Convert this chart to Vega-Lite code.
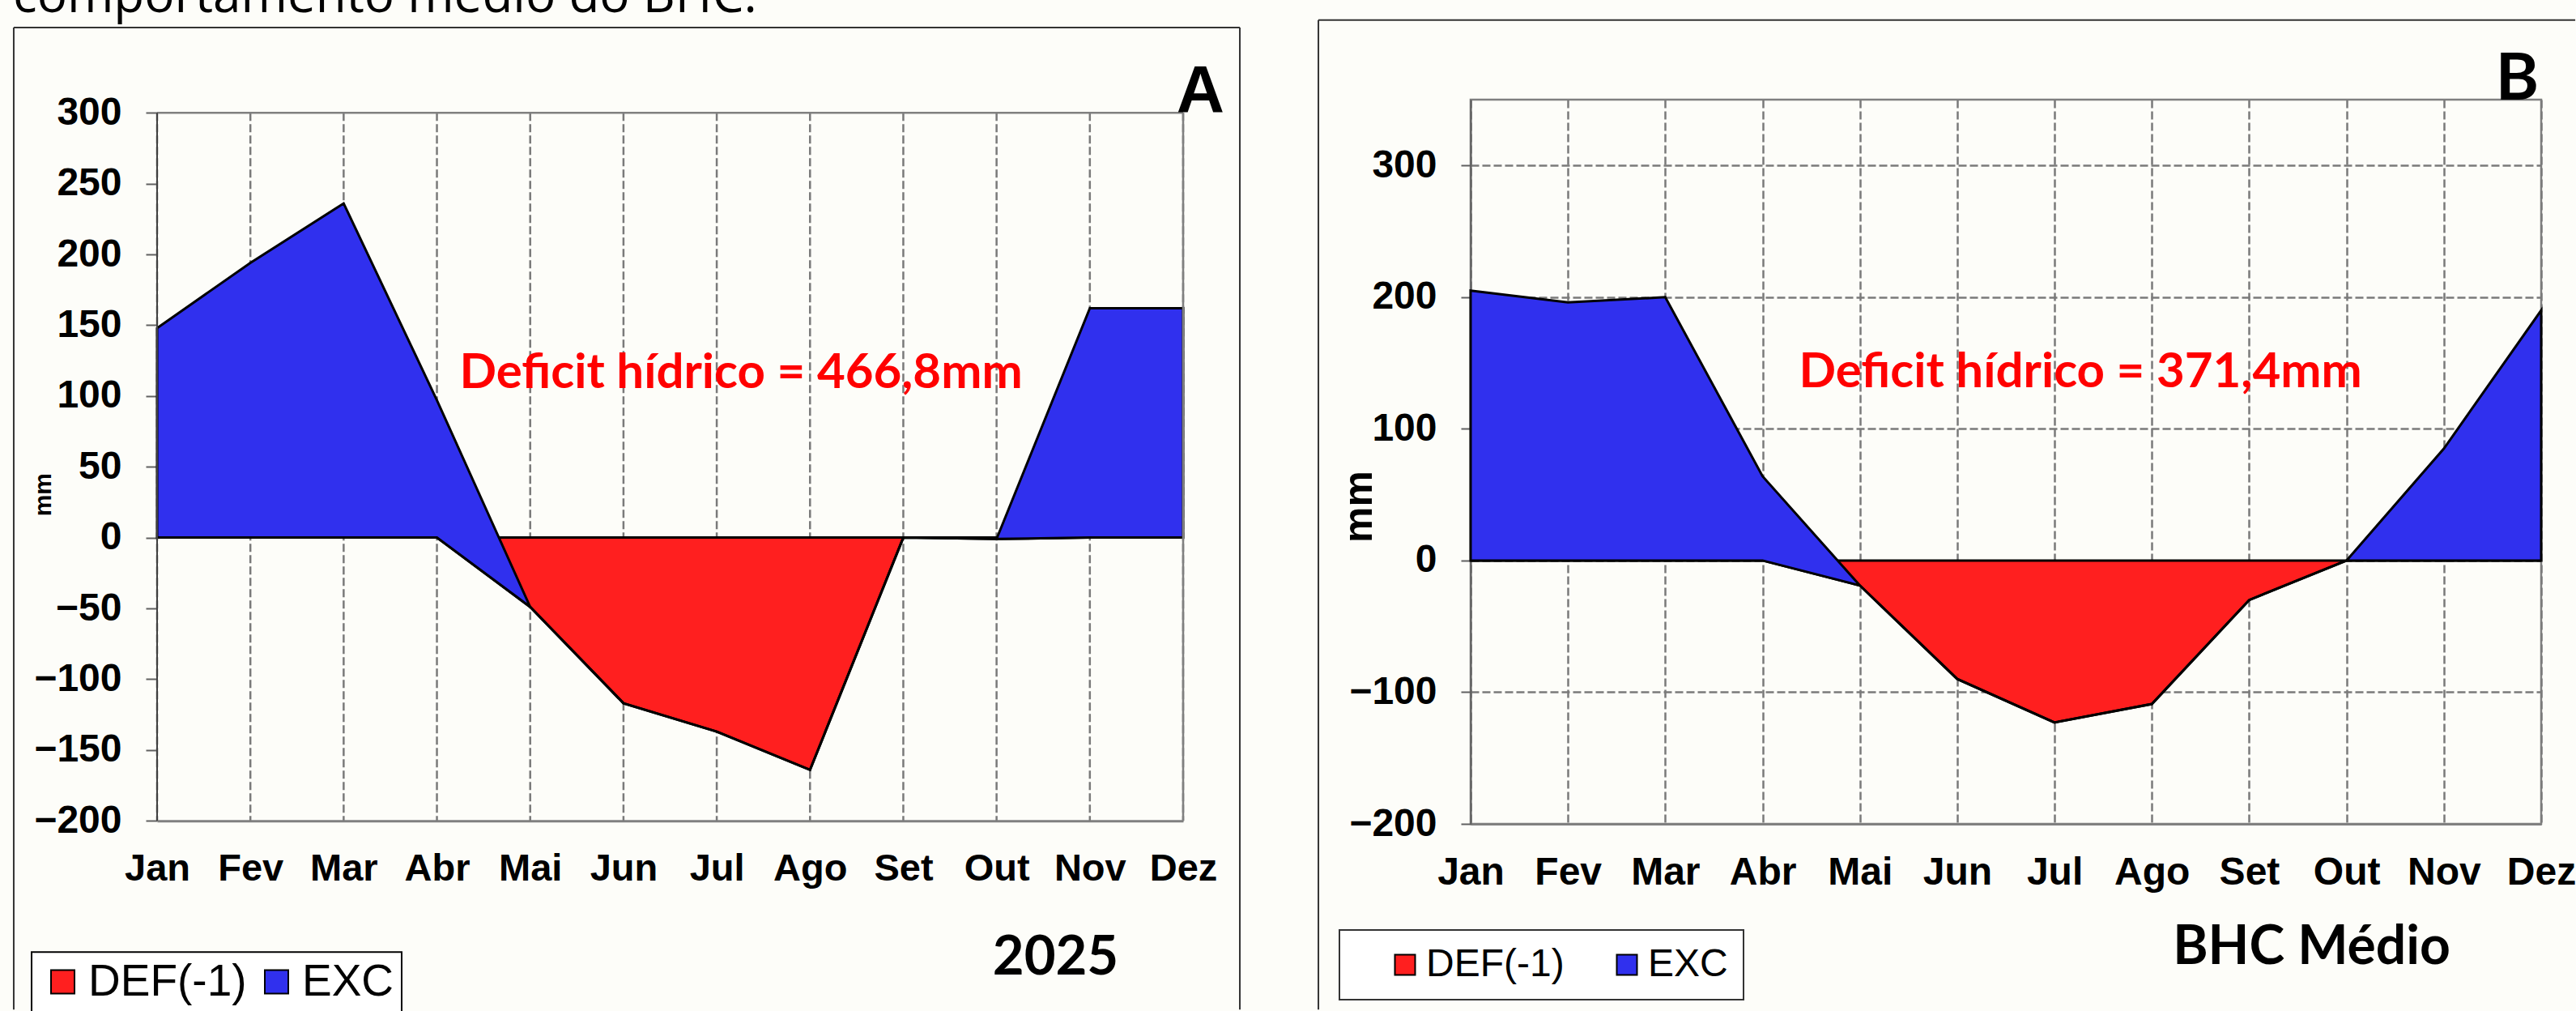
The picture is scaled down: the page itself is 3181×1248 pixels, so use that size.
{
  "$schema": "https://vega.github.io/schema/vega-lite/v6.json",
  "background": "#fdfdf9",
  "padding": {"left": 15, "top": -36, "right": 0, "bottom": 0},
  "title": {"text": "comportamento médio do BHC.", "anchor": "start", "frame": "bounds", "font": "Open Sans", "fontSize": 62, "fontWeight": "normal", "color": "#000000", "baseline": "alphabetic", "offset": -54.5},
  "spacing": 92,
  "hconcat": [
    {
      "resolve": {"scale": {"color": "independent"}, "legend": {"color": "independent"}},
      "vconcat": [
        {
          "width": 1267,
          "height": 890.2,
          "view": {"stroke": null},
          "data": {"values": [
            {"mes": "Jan", "i": 0, "def": 0, "topo_exc": 148},
            {"mes": "Fev", "i": 1, "def": 0, "topo_exc": 194},
            {"mes": "Mar", "i": 2, "def": 0, "topo_exc": 236},
            {"mes": "Abr", "i": 3, "def": 0, "topo_exc": 97},
            {"mes": "Mai", "i": 4, "def": -49, "topo_exc": -49},
            {"mes": "Jun", "i": 5, "def": -117, "topo_exc": -117},
            {"mes": "Jul", "i": 6, "def": -137, "topo_exc": -137},
            {"mes": "Ago", "i": 7, "def": -164, "topo_exc": -164},
            {"mes": "Set", "i": 8, "def": 0, "topo_exc": 0},
            {"mes": "Out", "i": 9, "def": -1, "topo_exc": -1},
            {"mes": "Nov", "i": 10, "def": 0, "topo_exc": 162},
            {"mes": "Dez", "i": 11, "def": 0, "topo_exc": 162}
          ]},
          "encoding": {
            "x": {
              "field": "i", "type": "quantitative",
              "scale": {"domain": [0, 11], "nice": false, "zero": false},
              "axis": {
                "values": [0, 1, 2, 3, 4, 5, 6, 7, 8, 9, 10, 11],
                "labelExpr": "['Jan','Fev','Mar','Abr','Mai','Jun','Jul','Ago','Set','Out','Nov','Dez'][datum.value]",
                "labelFontSize": 47, "labelPadding": 36, "ticks": false, "tickSize": 0, "grid": false,
                "domainWidth": 3, "domainColor": "#808080",
                "title": "2025", "titleFont": "Lato", "titleFontSize": 67, "titleFontWeight": "bold",
                "titleX": 1109, "titleY": 189, "titleAlign": "center", "titleBaseline": "alphabetic"
              }
            }
          },
          "layer": [
            {
              "mark": {"type": "rule", "color": "#7a7a7a", "strokeWidth": 2.5, "strokeDash": [10, 4]},
              "encoding": {"y": {"datum": 300}, "y2": {"datum": -200}}
            },
            {
              "mark": {"type": "area", "stroke": "#000000", "strokeWidth": 3},
              "encoding": {
                "y": {
                  "field": "def", "type": "quantitative", "title": "mm",
                  "scale": {"domain": [-200, 309.27], "nice": false, "zero": false},
                  "axis": {
                    "values": [-200, -150, -100, -50, 0, 50, 100, 150, 200, 250, 300],
                    "labelFontSize": 48, "labelPadding": 30, "tickSize": 14, "domain": false,
                    "titleFont": "Liberation Sans", "titleFontSize": 30, "titleFontWeight": "bold",
                    "titleX": -132, "titleY": 487.2, "titleAngle": 270, "titleAlign": "center", "titleBaseline": "alphabetic"
                  }
                },
                "y2": {"datum": 0},
                "color": {
                  "datum": "DEF(-1)",
                  "scale": {"domain": ["DEF(-1)", "EXC"], "range": ["#ff1f1f", "#3030ee"]},
                  "legend": {"orient": "none", "legendX": -155, "legendY": 1052.2, "direction": "horizontal", "title": null,
                    "symbolType": "square", "symbolSize": 841, "symbolStrokeColor": "#000000", "symbolStrokeWidth": 2,
                    "labelFont": "Liberation Sans", "labelFontSize": 55, "labelColor": "#000000", "labelOffset": 4, "labelLimit": 600,
                    "columnPadding": 7, "padding": 9, "symbolOffset": 2, "fillColor": "#ffffff", "strokeColor": "#000000"}
                }
              }
            },
            {
              "mark": {"type": "area", "stroke": "#000000", "strokeWidth": 3},
              "encoding": {
                "y": {"field": "topo_exc", "type": "quantitative", "title": "mm"},
                "y2": {"field": "def"},
                "color": {
                  "datum": "EXC",
                  "scale": {"domain": ["DEF(-1)", "EXC"], "range": ["#ff1f1f", "#3030ee"]},
                  "legend": {"orient": "none", "legendX": -155, "legendY": 1052.2, "direction": "horizontal", "title": null,
                    "symbolType": "square", "symbolSize": 841, "symbolStrokeColor": "#000000", "symbolStrokeWidth": 2,
                    "labelFont": "Liberation Sans", "labelFontSize": 55, "labelColor": "#000000", "labelOffset": 4, "labelLimit": 600,
                    "columnPadding": 7, "padding": 9, "symbolOffset": 2, "fillColor": "#ffffff", "strokeColor": "#000000"}
                }
              }
            },
            {
              "transform": [{"filter": "datum.i == 0"}],
              "mark": {"type": "rule", "color": "#808080", "strokeWidth": 2.5},
              "encoding": {"x": {"datum": 0}, "x2": {"datum": 11}, "y": {"datum": 300}}
            },
            {
              "transform": [{"filter": "datum.i == 0"}],
              "mark": {"type": "rule", "color": "#808080", "strokeWidth": 2.5},
              "encoding": {"x": {"datum": 11}, "y": {"datum": 300}, "y2": {"datum": -200}}
            },
            {
              "transform": [{"filter": "datum.i == 0"}],
              "mark": {"type": "rule", "color": "#404040", "strokeWidth": 2},
              "encoding": {"x": {"datum": 0}, "y": {"datum": 300}, "y2": {"datum": -200}}
            },
            {
              "transform": [{"filter": "datum.i == 0"}],
              "mark": {"type": "text", "font": "Lato", "fontWeight": "bold", "fontSize": 60, "color": "#ff0000", "align": "center", "baseline": "alphabetic"},
              "encoding": {"x": {"datum": 6.26}, "y": {"datum": 105.5}, "text": {"value": "Deficit hídrico = 466,8mm"}}
            },
            {
              "transform": [{"filter": "datum.i == 0"}],
              "mark": {"type": "text", "font": "Liberation Sans", "fontWeight": "bold", "fontSize": 82, "color": "#000000", "align": "right", "baseline": "alphabetic"},
              "encoding": {"x": {"datum": 11.443}, "y": {"datum": 300.6}, "text": {"value": "A"}}
            },
            {
              "transform": [{"filter": "datum.i == 0"}],
              "mark": {"type": "rule", "color": "#333333", "strokeWidth": 2},
              "encoding": {"x": {"datum": -1.537}, "x2": {"datum": 11.608}, "y": {"datum": 360.2}}
            },
            {
              "transform": [{"filter": "datum.i == 0"}],
              "mark": {"type": "rule", "color": "#333333", "strokeWidth": 2},
              "encoding": {"x": {"datum": -1.537}, "y": {"datum": 360.2}, "y2": {"datum": -333.3}}
            },
            {
              "transform": [{"filter": "datum.i == 0"}],
              "mark": {"type": "rule", "color": "#333333", "strokeWidth": 2},
              "encoding": {"x": {"datum": 11.608}, "y": {"datum": 360.2}, "y2": {"datum": -333.3}}
            }
          ]
        }
      ]
    },
    {
      "resolve": {"scale": {"color": "independent"}, "legend": {"color": "independent"}},
      "vconcat": [
        {
          "width": 1322,
          "height": 894,
          "data": {"values": [
            {"mes": "Jan", "i": 0, "def": 0, "topo_exc": 205},
            {"mes": "Fev", "i": 1, "def": 0, "topo_exc": 196},
            {"mes": "Mar", "i": 2, "def": 0, "topo_exc": 200},
            {"mes": "Abr", "i": 3, "def": 0, "topo_exc": 64},
            {"mes": "Mai", "i": 4, "def": -19, "topo_exc": -19},
            {"mes": "Jun", "i": 5, "def": -90, "topo_exc": -90},
            {"mes": "Jul", "i": 6, "def": -123, "topo_exc": -123},
            {"mes": "Ago", "i": 7, "def": -109, "topo_exc": -109},
            {"mes": "Set", "i": 8, "def": -30, "topo_exc": -30},
            {"mes": "Out", "i": 9, "def": 0, "topo_exc": 0},
            {"mes": "Nov", "i": 10, "def": 0, "topo_exc": 85},
            {"mes": "Dez", "i": 11, "def": 0, "topo_exc": 190}
          ]},
          "encoding": {
            "x": {
              "field": "i", "type": "quantitative",
              "scale": {"domain": [0, 11], "nice": false, "zero": false},
              "axis": {
                "values": [0, 1, 2, 3, 4, 5, 6, 7, 8, 9, 10, 11],
                "labelExpr": "['Jan','Fev','Mar','Abr','Mai','Jun','Jul','Ago','Set','Out','Nov','Dez'][datum.value]",
                "labelFontSize": 48, "labelPadding": 36, "ticks": false, "tickSize": 0,
                "domainWidth": 3, "domainColor": "#808080",
                "title": "BHC Médio", "titleFont": "Lato", "titleFontSize": 66, "titleFontWeight": "bold",
                "titleX": 1038, "titleY": 172, "titleAlign": "center", "titleBaseline": "alphabetic"
              }
            }
          },
          "layer": [
            {
              "mark": {"type": "area", "stroke": "#000000", "strokeWidth": 3},
              "encoding": {
                "y": {
                  "field": "def", "type": "quantitative", "title": "mm",
                  "scale": {"domain": [-200, 350], "nice": false, "zero": false},
                  "axis": {
                    "values": [-200, -100, 0, 100, 200, 300],
                    "labelFontSize": 48, "labelPadding": 30, "tickSize": 12,
                    "domainColor": "#606060", "domainWidth": 2,
                    "titleFont": "Liberation Sans", "titleFontSize": 50, "titleFontWeight": "bold",
                    "titleX": -123, "titleY": 502, "titleAngle": 270, "titleAlign": "center", "titleBaseline": "alphabetic"
                  }
                },
                "y2": {"datum": 0},
                "color": {
                  "datum": "DEF(-1)",
                  "scale": {"domain": ["DEF(-1)", "EXC"], "range": ["#ff1f1f", "#3030ee"]},
                  "legend": {"orient": "none", "legendX": -162, "legendY": 1025, "direction": "horizontal", "title": null,
                    "symbolType": "square", "symbolSize": 625, "symbolStrokeColor": "#000000", "symbolStrokeWidth": 2,
                    "labelFont": "Liberation Sans", "labelFontSize": 48, "labelColor": "#000000", "labelOffset": 2, "labelLimit": 600,
                    "labelExpr": "datum.label == 'EXC' ? 'EXC     ' : datum.label",
                    "columnPadding": 15, "padding": 19, "symbolOffset": 38, "fillColor": "#ffffff", "strokeColor": "#333333"}
                }
              }
            },
            {
              "mark": {"type": "area", "stroke": "#000000", "strokeWidth": 3},
              "encoding": {
                "y": {"field": "topo_exc", "type": "quantitative", "title": "mm"},
                "y2": {"field": "def"},
                "color": {
                  "datum": "EXC",
                  "scale": {"domain": ["DEF(-1)", "EXC"], "range": ["#ff1f1f", "#3030ee"]},
                  "legend": {"orient": "none", "legendX": -162, "legendY": 1025, "direction": "horizontal", "title": null,
                    "symbolType": "square", "symbolSize": 625, "symbolStrokeColor": "#000000", "symbolStrokeWidth": 2,
                    "labelFont": "Liberation Sans", "labelFontSize": 48, "labelColor": "#000000", "labelOffset": 2, "labelLimit": 600,
                    "labelExpr": "datum.label == 'EXC' ? 'EXC     ' : datum.label",
                    "columnPadding": 15, "padding": 19, "symbolOffset": 38, "fillColor": "#ffffff", "strokeColor": "#333333"}
                }
              }
            },
            {
              "transform": [{"filter": "datum.i == 0"}],
              "mark": {"type": "text", "font": "Lato", "fontWeight": "bold", "fontSize": 60, "color": "#ff0000", "align": "center", "baseline": "alphabetic"},
              "encoding": {"x": {"datum": 6.266}, "y": {"datum": 131.5}, "text": {"value": "Deficit hídrico = 371,4mm"}}
            },
            {
              "transform": [{"filter": "datum.i == 0"}],
              "mark": {"type": "text", "font": "Lato", "fontWeight": "bold", "fontSize": 81, "color": "#000000", "align": "right", "baseline": "alphabetic"},
              "encoding": {"x": {"datum": 10.975}, "y": {"datum": 349.9}, "text": {"value": "B"}}
            },
            {
              "transform": [{"filter": "datum.i == 0"}],
              "mark": {"type": "rule", "color": "#333333", "strokeWidth": 2},
              "encoding": {"x": {"datum": -1.564}, "x2": {"datum": 11.35}, "y": {"datum": 410.5}}
            },
            {
              "transform": [{"filter": "datum.i == 0"}],
              "mark": {"type": "rule", "color": "#333333", "strokeWidth": 2},
              "encoding": {"x": {"datum": -1.564}, "y": {"datum": 410.5}, "y2": {"datum": -341.0}}
            }
          ]
        }
      ]
    }
  ],
  "resolve": {"scale": {"color": "independent"}, "legend": {"color": "independent"}},
  "config": {
    "font": "Liberation Sans",
    "view": {"stroke": "#808080", "strokeWidth": 2.5},
    "axis": {"labelFont": "Liberation Sans", "labelFontWeight": "bold", "labelColor": "#000000", "gridColor": "#7a7a7a", "gridDash": [10, 4], "gridWidth": 2.5, "gridOpacity": 1, "tickColor": "#606060", "tickWidth": 2, "titleColor": "#000000", "labelFlush": false, "labelOverlap": false, "labelBound": false},
    "legend": {"strokeWidth": 2}
  }
}
